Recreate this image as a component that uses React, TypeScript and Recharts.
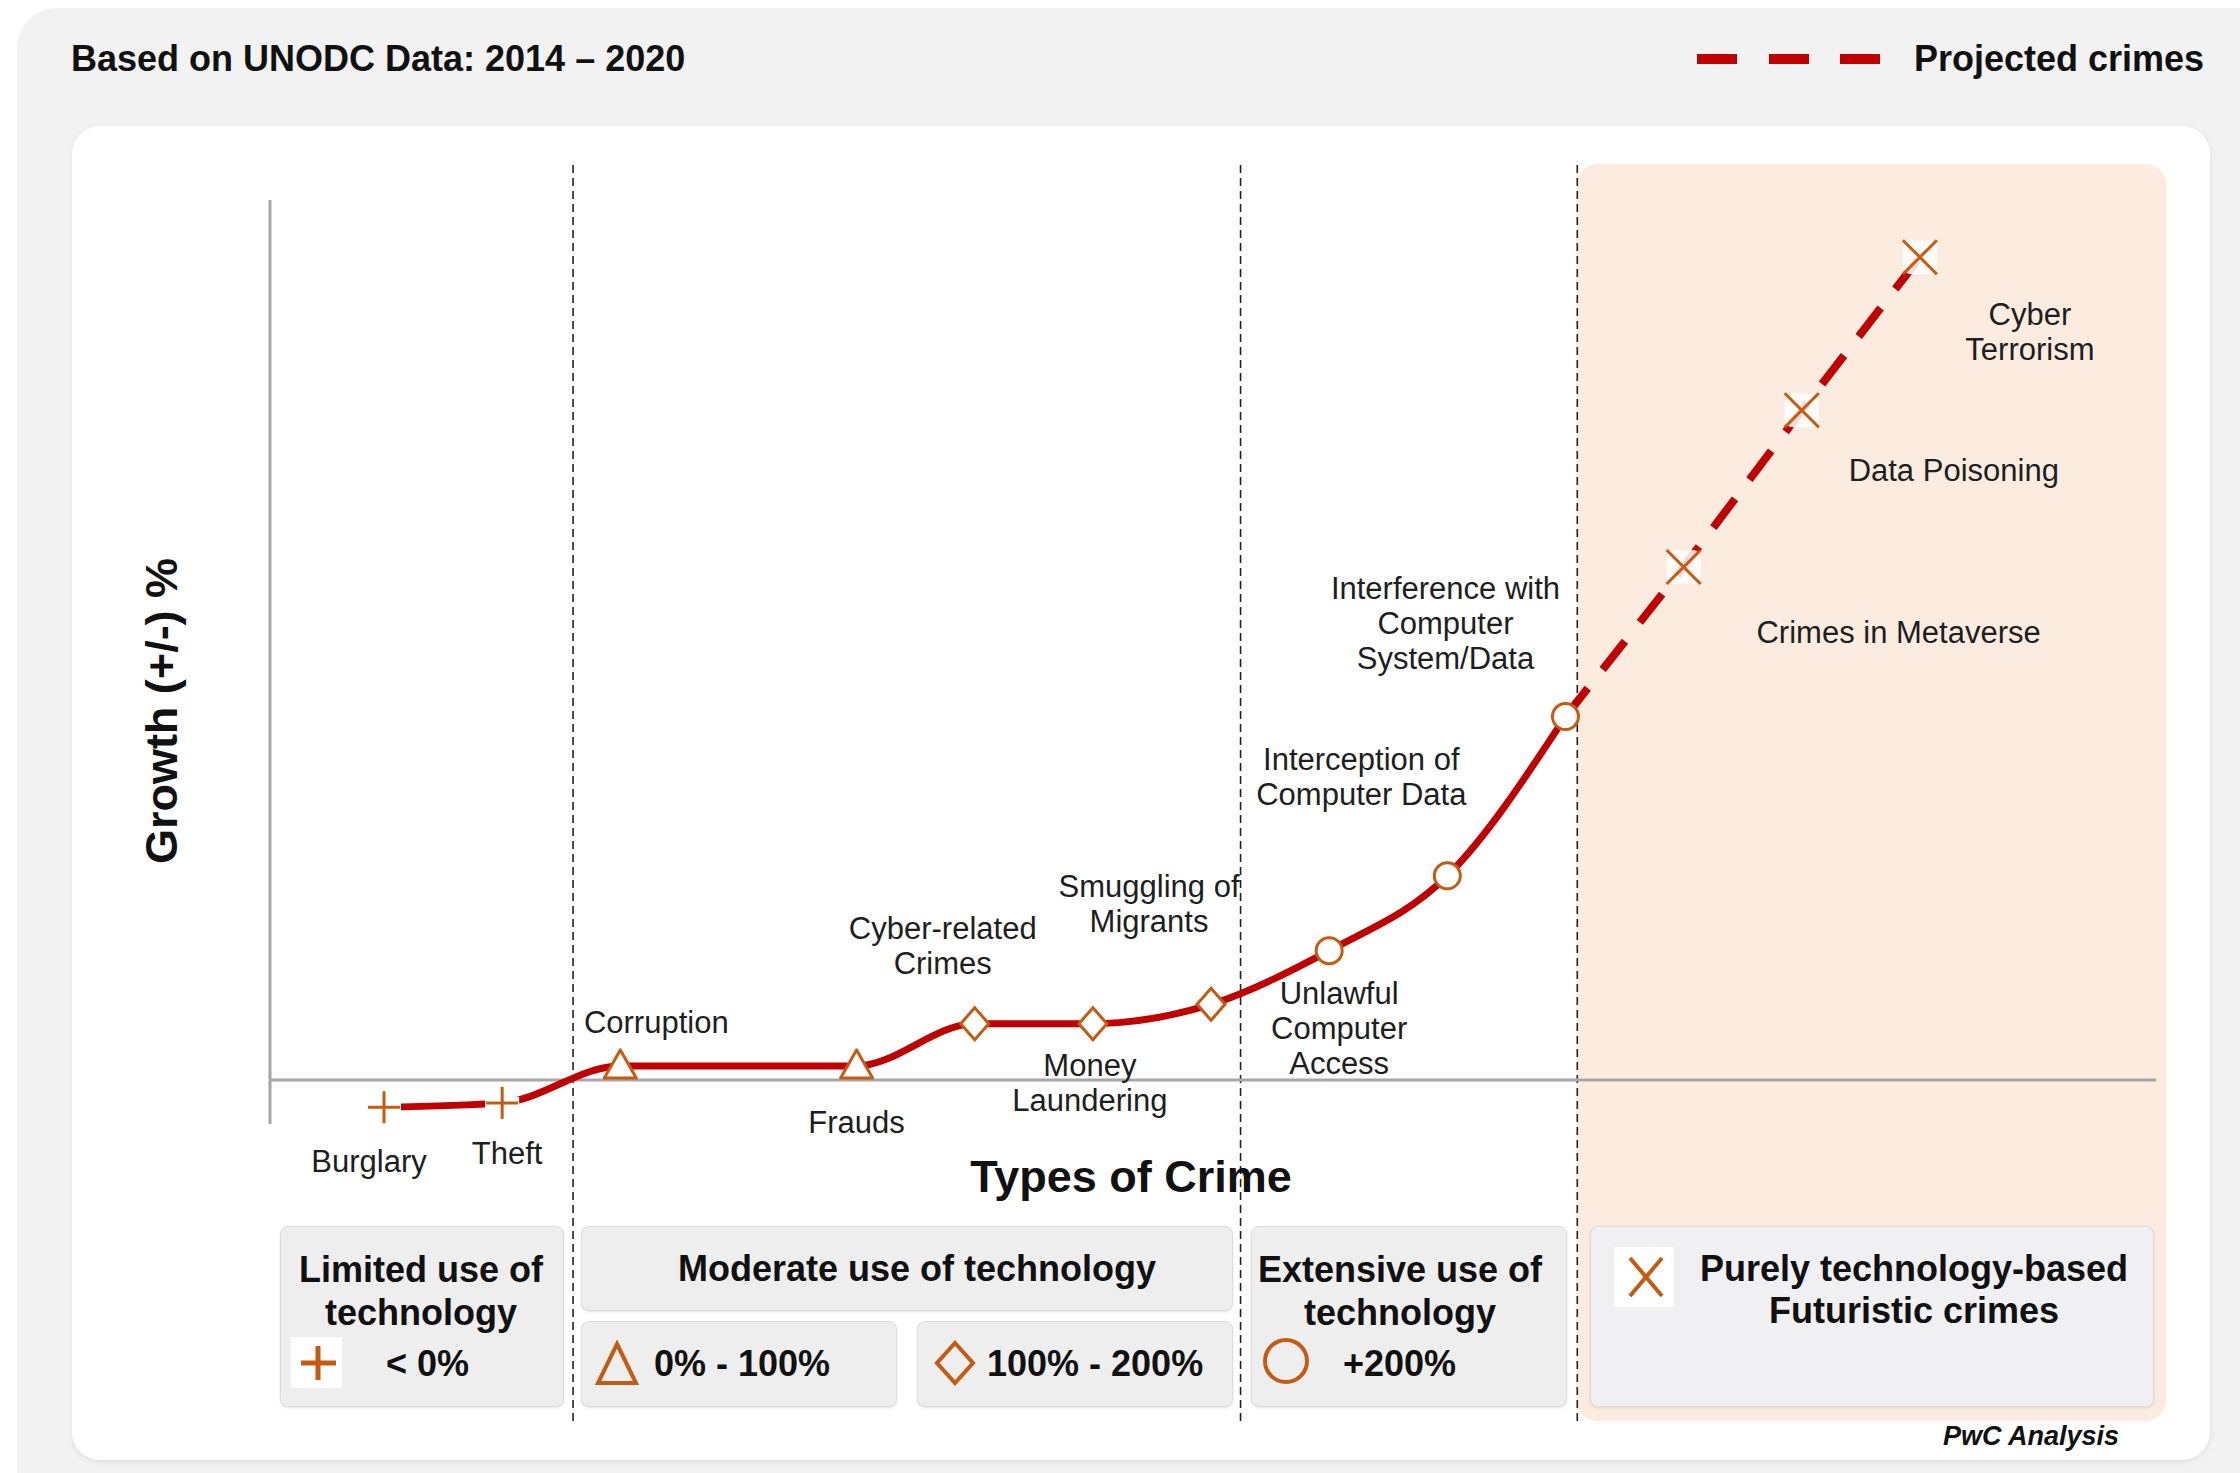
import React from "react";
import {
  ComposedChart,
  Line,
  XAxis,
  YAxis,
  ReferenceLine,
  ReferenceArea,
} from "recharts";

const FONT = '"Liberation Sans", Arial, sans-serif';
const RED = "#c00000";
const ORANGE = "#c55a11";
const PEACH = "#fcecdf";

// crimes along the x axis (slot = position, a gap between Corruption and Frauds)
const crimes = [
  "Burglary",
  "Theft",
  "Corruption",
  "Frauds",
  "Cyber-related Crimes",
  "Money Laundering",
  "Smuggling of Migrants",
  "Unlawful Computer Access",
  "Interception of Computer Data",
  "Interference with Computer System/Data",
  "Crimes in Metaverse",
  "Data Poisoning",
  "Cyber Terrorism",
];
const slots = [0, 1, 2, 4, 5, 6, 7, 8, 9, 10, 11, 12, 13];
// growth index (relative)
const growth = [-3.1, -2.6, 1.6, 1.6, 6.4, 6.4, 8.6, 14.7, 23.2, 41.3, 58.3, 76.1, 93.5];
const markerKinds = [
  "plus", "plus",
  "triangle", "triangle",
  "diamond", "diamond", "diamond",
  "circle", "circle", "circle",
  "cross", "cross", "cross",
];
const labelLines = [
  ["Burglary"],
  ["Theft"],
  ["Corruption"],
  ["Frauds"],
  ["Cyber-related", "Crimes"],
  ["Money", "Laundering"],
  ["Smuggling of", "Migrants"],
  ["Unlawful", "Computer", "Access"],
  ["Interception of", "Computer Data"],
  ["Interference with", "Computer", "System/Data"],
  ["Crimes in Metaverse"],
  ["Data Poisoning"],
  ["Cyber", "Terrorism"],
];
const recordedCount = 10; // first 10 are recorded, the rest projected
const groupBounds = [1.6, 7.25, 10.1];

// label placement relative to each point (px)
const labelOffsets: [number, number][] = [
  [-15, 54], [5, 51], [36, -43], [0, 57], [-32, -95], [-3, 42], [-62, -118],
  [10, 43], [-86, -116], [-120, -128], [215, 66], [152, 60], [110, 57],
];

const X_DOMAIN: [number, number] = [-0.965, 15.083];
const Y_DOMAIN: [number, number] = [-38.75, 104.09];

const rows = crimes.map((name, i) => ({
  name,
  x: slots[i],
  growth: growth[i],
  recorded: i < recordedCount ? growth[i] : null,
  projected: i >= recordedCount - 1 ? growth[i] : null,
  kind: markerKinds[i],
}));

function Marker(props: any) {
  const { cx, cy, index } = props;
  const kind = markerKinds[index];
  const lines = labelLines[index];
  const [dx, dy] = labelOffsets[index];
  let shape: React.ReactNode = null;
  const sw = 3;
  if (kind === "plus") {
    shape = (
      <g>
        <rect x={cx - 17} y={cy - 6} width={34} height={12} fill="#fff" />
        <line x1={cx - 16} y1={cy} x2={cx + 16} y2={cy} stroke={ORANGE} strokeWidth={sw} />
        <line x1={cx} y1={cy - 16} x2={cx} y2={cy + 16} stroke={ORANGE} strokeWidth={sw} />
      </g>
    );
  } else if (kind === "triangle") {
    shape = (
      <polygon
        points={`${cx},${cy - 16} ${cx + 16},${cy + 12} ${cx - 16},${cy + 12}`}
        fill="#fff"
        stroke={ORANGE}
        strokeWidth={sw}
        strokeLinejoin="round"
      />
    );
  } else if (kind === "diamond") {
    shape = (
      <polygon
        points={`${cx},${cy - 16} ${cx + 14},${cy} ${cx},${cy + 16} ${cx - 14},${cy}`}
        fill="#fff"
        stroke={ORANGE}
        strokeWidth={sw}
      />
    );
  } else if (kind === "circle") {
    shape = <circle cx={cx} cy={cy} r={13} fill="#fff" stroke={ORANGE} strokeWidth={sw} />;
  } else {
    shape = (
      <g>
        <rect x={cx - 17} y={cy - 17} width={34} height={34} fill="#fff" opacity={0.85} rx={8} />
        <line x1={cx - 17} y1={cy - 17} x2={cx + 17} y2={cy + 17} stroke={ORANGE} strokeWidth={sw} />
        <line x1={cx + 17} y1={cy - 17} x2={cx - 17} y2={cy + 17} stroke={ORANGE} strokeWidth={sw} />
      </g>
    );
  }
  return (
    <g key={`m-${index}`}>
      {shape}
      <text
        x={cx + dx}
        y={cy + dy}
        textAnchor="middle"
        fontFamily={FONT}
        fontSize={31}
        fill="#1e1e1e"
      >
        {lines.map((t, k) => (
          <tspan key={k} x={cx + dx} y={cy + dy + k * 35} dominantBaseline="central">
            {t}
          </tspan>
        ))}
      </text>
    </g>
  );
}

function T({
  x,
  y,
  align = "center",
  size = 36,
  bold = true,
  italic = false,
  children,
}: any) {
  const tx = align === "center" ? "-50%" : align === "right" ? "-100%" : "0";
  return (
    <div
      style={{
        position: "absolute",
        left: x,
        top: y,
        transform: `translate(${tx},-50%)`,
        fontFamily: FONT,
        fontSize: size,
        fontWeight: bold ? 700 : 400,
        fontStyle: italic ? "italic" : "normal",
        whiteSpace: "nowrap",
        lineHeight: 1,
        color: "#111",
      }}
    >
      {children}
    </div>
  );
}

function Box({ left, top, width, height, bg = "#eeeeee" }: any) {
  return (
    <div
      style={{
        position: "absolute",
        left,
        top,
        width,
        height,
        boxSizing: "border-box",
        background: bg,
        border: "1.5px solid #dcdcdc",
        borderRadius: 8,
        boxShadow: "0 1px 3px rgba(0,0,0,0.10)",
      }}
    />
  );
}

export default function App() {
  return (
    <div style={{ position: "relative", width: 2240, height: 1473, overflow: "hidden", background: "#fff" }}>
      <style>{"body{margin:0}"}</style>
      <div
        style={{
          position: "absolute",
          left: 17,
          top: 8,
          width: 2300,
          height: 1520,
          background: "#f2f2f2",
          borderRadius: 40,
        }}
      />
      <div
        style={{
          position: "absolute",
          left: 72,
          top: 126,
          width: 2138,
          height: 1334,
          background: "#fff",
          borderRadius: 28,
          boxShadow: "0 2px 6px rgba(0,0,0,0.08)",
        }}
      />

      <T x={71} y={59} align="left">Based on UNODC Data: 2014 – 2020</T>
      <svg style={{ position: "absolute", left: 0, top: 0 }} width={2240} height={120}>
        {[1697, 1769, 1840].map((x) => (
          <rect key={x} x={x} y={54} width={40} height={10} fill={RED} />
        ))}
      </svg>
      <T x={1914} y={59} align="left">Projected crimes</T>

      <div style={{ position: "absolute", left: 0, top: 0 }}>
        <ComposedChart
          width={2240}
          height={1473}
          data={rows}
          margin={{ top: 164, left: 270, right: 74, bottom: 52 }}
        >
          <XAxis type="number" dataKey="x" domain={X_DOMAIN} hide allowDataOverflow />
          <YAxis type="number" domain={Y_DOMAIN} hide allowDataOverflow />
          <ReferenceArea
            x1={groupBounds[2]}
            x2={X_DOMAIN[1]}
            y1={Y_DOMAIN[0]}
            y2={Y_DOMAIN[1]}
            shape={(p: any) => (
              <rect x={p.x} y={p.y} width={p.width} height={p.height} rx={20} fill={PEACH} />
            )}
          />
          {groupBounds.map((b) => (
            <ReferenceLine key={b} x={b} stroke="#222" strokeWidth={1.6} strokeDasharray="8 5" />
          ))}
          <ReferenceLine
            segment={[{ x: X_DOMAIN[0], y: -5 }, { x: X_DOMAIN[0], y: 100 }]}
            stroke="#a6a6a6"
            strokeWidth={3}
          />
          <ReferenceLine
            segment={[{ x: X_DOMAIN[0], y: 0 }, { x: 15.0, y: 0 }]}
            stroke="#a6a6a6"
            strokeWidth={3}
          />
          <Line
            type="monotone"
            dataKey="recorded"
            stroke={RED}
            strokeWidth={7}
            dot={false}
            activeDot={false}
            isAnimationActive={false}
          />
          <Line
            type="linear"
            dataKey="projected"
            stroke={RED}
            strokeWidth={8}
            strokeDasharray="36 24"
            dot={false}
            activeDot={false}
            isAnimationActive={false}
          />
          <Line
            type="linear"
            dataKey="growth"
            stroke="none"
            strokeWidth={0}
            dot={(p: any) => <Marker {...p} key={`mk-${p.index}`} />}
            activeDot={false}
            isAnimationActive={false}
          />
        </ComposedChart>
      </div>

      <div
        style={{
          position: "absolute",
          left: 161,
          top: 711,
          transform: "translate(-50%,-50%) rotate(-90deg)",
          fontFamily: FONT,
          fontSize: 45,
          fontWeight: 700,
          whiteSpace: "nowrap",
          lineHeight: 1,
          color: "#111",
        }}
      >
        Growth (+/-) %
      </div>
      <T x={1131} y={1176} size={45}>Types of Crime</T>

      <Box left={280} top={1226} width={284} height={181} />
      <Box left={581} top={1226} width={652} height={85} />
      <Box left={581} top={1321} width={316} height={86} />
      <Box left={917} top={1321} width={316} height={86} />
      <Box left={1251} top={1226} width={316} height={181} />
      <Box left={1590} top={1226} width={564} height={181} bg="#f0f0f2" />

      <svg style={{ position: "absolute", left: 0, top: 0 }} width={2240} height={1473}>
        <rect x={291} y={1337} width={51} height={51} fill="#fff" />
        <line x1={301} y1={1363} x2={336} y2={1363} stroke={ORANGE} strokeWidth={5} />
        <line x1={318} y1={1346} x2={318} y2={1380} stroke={ORANGE} strokeWidth={5} />
        <polygon points="617,1344 636,1383 598,1383" fill="none" stroke={ORANGE} strokeWidth={4} />
        <polygon points="955,1343 973,1363 955,1383 937,1363" fill="none" stroke={ORANGE} strokeWidth={4} />
        <circle cx={1286} cy={1361} r={21} fill="none" stroke={ORANGE} strokeWidth={4} />
        <rect x={1614} y={1247} width={60} height={60} fill="#fff" />
        <line x1={1630} y1={1258} x2={1662} y2={1296} stroke={ORANGE} strokeWidth={4} />
        <line x1={1662} y1={1258} x2={1630} y2={1296} stroke={ORANGE} strokeWidth={4} />
      </svg>

      <T x={421} y={1270}>Limited use of</T>
      <T x={421} y={1313}>technology</T>
      <T x={386} y={1364} align="left">&lt; 0%</T>
      <T x={917} y={1269}>Moderate use of technology</T>
      <T x={654} y={1364} align="left">0% - 100%</T>
      <T x={987} y={1364} align="left">100% - 200%</T>
      <T x={1400} y={1270}>Extensive use of</T>
      <T x={1400} y={1313}>technology</T>
      <T x={1343} y={1364} align="left">+200%</T>
      <T x={1914} y={1269}>Purely technology-based</T>
      <T x={1914} y={1311}>Futuristic crimes</T>
      <T x={2119} y={1436} align="right" size={27} italic>PwC Analysis</T>
    </div>
  );
}
